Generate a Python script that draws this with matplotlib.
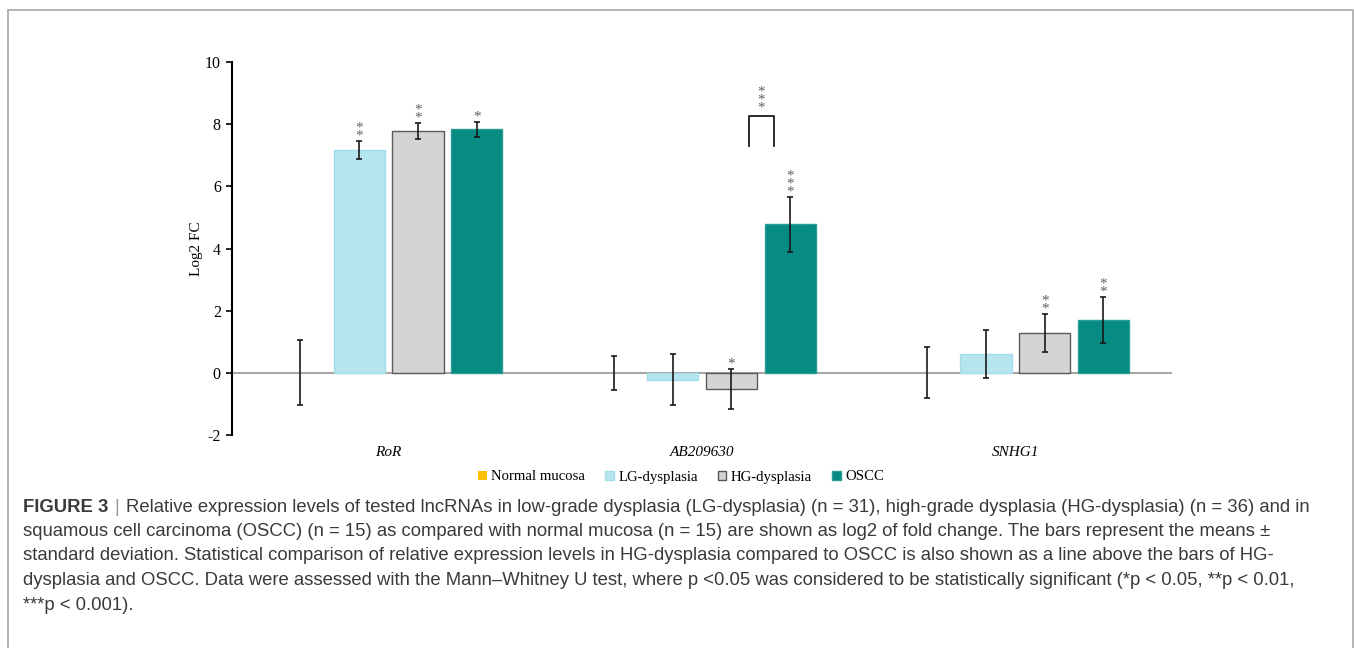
import matplotlib
matplotlib.use("Agg")
import matplotlib.pyplot as plt
from matplotlib.patches import Rectangle
import numpy as np

plt.rcParams["axes.unicode_minus"] = False

# --- data ---
genes = ["RoR", "AB209630", "SNHG1"]
groups = ["Normal mucosa", "LG-dysplasia", "HG-dysplasia", "OSCC"]
means = {
    "Normal mucosa": [0.0, 0.0, 0.0],
    "LG-dysplasia": [7.17, -0.23, 0.60],
    "HG-dysplasia": [7.79, -0.52, 1.28],
    "OSCC": [7.83, 4.78, 1.70],
}
sds = {
    "Normal mucosa": [1.05, 0.55, 0.82],
    "LG-dysplasia": [0.30, 0.82, 0.78],
    "HG-dysplasia": [0.26, 0.64, 0.60],
    "OSCC": [0.25, 0.89, 0.74],
}
stars = {
    "Normal mucosa": ["", "", ""],
    "LG-dysplasia": ["**", "", ""],
    "HG-dysplasia": ["**", "*", "**"],
    "OSCC": ["*", "***", "**"],
}
# HG vs OSCC bracket (AB209630)
bracket_gene = 1
bracket_low, bracket_high = 7.29, 8.26
bracket_label = "***"

caption = [
    "Relative expression levels of tested lncRNAs in low-grade dysplasia (LG-dysplasia) (n = 31), high-grade dysplasia (HG-dysplasia) (n = 36) and in",
    "squamous cell carcinoma (OSCC) (n = 15) as compared with normal mucosa (n = 15) are shown as log2 of fold change. The bars represent the means \u00b1",
    "standard deviation. Statistical comparison of relative expression levels in HG-dysplasia compared to OSCC is also shown as a line above the bars of HG-",
    "dysplasia and OSCC. Data were assessed with the Mann\u2013Whitney U test, where p <0.05 was considered to be statistically significant (*p < 0.05, **p < 0.01,",
    "***p < 0.001).",
]

# --- style ---
face = {"Normal mucosa": "#FFC000", "LG-dysplasia": "#B5E6F0",
        "HG-dysplasia": "#D4D4D4", "OSCC": "#078B82"}
edge = {"Normal mucosa": "#FFC000", "LG-dysplasia": "#A3DDE9",
        "HG-dysplasia": "#5A5A5A", "OSCC": "#2A9D94"}
serif = ["Liberation Serif", "DejaVu Serif"]
sans = ["Liberation Sans", "DejaVu Sans"]
txt_col = "#3a3a3a"


def star_text(xpos, ypos, s):
    # asterisks stacked vertically, as in the original figure
    ax.text(xpos, ypos, "\n".join(s), ha="center", va="bottom", fontsize=11,
            color="#606060", family=serif, linespacing=0.5)


fig = plt.figure(figsize=(13.54, 6.48), dpi=100)
ax = fig.add_axes([0.1713, 0.3287, 0.8656 - 0.1713, 0.9043 - 0.3287])

# frame around figure
fig.patches.append(Rectangle((8 / 1354, -0.05), (1353 - 8) / 1354, 1 - 10 / 648 + 0.05,
                             transform=fig.transFigure, fill=False,
                             edgecolor="#A8A8A8", linewidth=1.2))

x = np.arange(len(genes))
step = 0.1875
width = 0.163
for i, g in enumerate(groups):
    xs = x + (i - 1.5) * step
    m = means[g]
    if g != "Normal mucosa":
        ax.bar(xs, m, width=width, color=face[g], edgecolor=edge[g], linewidth=1.0,
               label=g, zorder=2)
    else:
        ax.bar(xs, m, width=width, color=face[g], label=g, zorder=2)
    ax.errorbar(xs, m, yerr=sds[g], fmt="none", ecolor="#1a1a1a", elinewidth=1.2,
                capsize=2.5, capthick=1.2, zorder=3)
    for j in range(len(genes)):
        if stars[g][j]:
            star_text(xs[j], m[j] + sds[g][j] - 0.05, stars[g][j])

# bracket
bx0 = bracket_gene + 0.15
bx1 = bracket_gene + 0.23
ax.plot([bx0, bx0, bx1, bx1], [bracket_low, bracket_high, bracket_high, bracket_low],
        color="#1a1a1a", linewidth=1.3, zorder=3)
star_text((bx0 + bx1) / 2, bracket_high + 0.05, bracket_label)

ax.axhline(0, color="#A6A6A6", linewidth=1.5, zorder=1)
ax.set_xlim(-0.5, 2.5)
ax.set_ylim(-2, 10)
ax.set_yticks(range(-2, 11, 2))
ax.set_xticks(x)
ax.set_xticklabels(genes, fontstyle="italic", family=serif, fontsize=11)
for lab in ax.get_yticklabels():
    lab.set_family(serif)
    lab.set_fontsize(11.5)
ax.tick_params(axis="x", length=0, pad=8)
ax.tick_params(axis="y", length=4, width=1.2, direction="out", pad=4)
for sp in ["top", "right", "bottom"]:
    ax.spines[sp].set_visible(False)
ax.spines["left"].set_linewidth(1.5)
ax.set_ylabel("Log2 FC", family=serif, fontsize=11)
ax.yaxis.set_label_coords(-0.031, 0.5)

handles, labels = ax.get_legend_handles_labels()
leg = fig.legend(handles, labels, loc="center", bbox_to_anchor=(681 / 1354, 1 - 477 / 648),
                 ncol=4, frameon=False, prop={"family": serif, "size": 10.6},
                 handlelength=0.6, handleheight=0.6, handletextpad=0.3, columnspacing=1.35)

# caption
y0 = 1 - 507 / 648
dy = 24.5 / 648
fs = 13.3
t = fig.text(23 / 1354, y0, "FIGURE 3", fontsize=fs, fontweight="bold", family=sans,
             color=txt_col, va="center")
fig.canvas.draw()
r = fig.canvas.get_renderer()
bb = t.get_window_extent(r)
sep = fig.text(bb.x1 / fig.bbox.width + 6 / 1354, y0, "|", fontsize=fs, family=sans,
               color="#9a9a9a", va="center")
bb2 = sep.get_window_extent(r)
fig.text(bb2.x1 / fig.bbox.width + 7 / 1354, y0, caption[0], fontsize=fs, family=sans,
         color=txt_col, va="center")
for k, line in enumerate(caption[1:], start=1):
    fig.text(23 / 1354, y0 - k * dy, line, fontsize=fs, family=sans, color=txt_col,
             va="center")

fig.savefig("out.png", dpi=100)
